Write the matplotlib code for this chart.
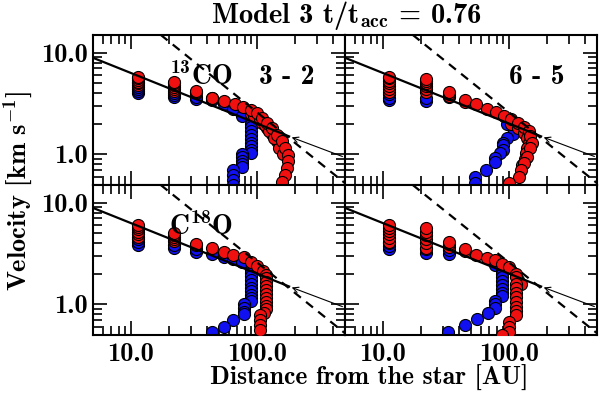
import numpy as np
import matplotlib.pyplot as plt
from matplotlib.ticker import FixedLocator, FixedFormatter, LogLocator, NullFormatter

plt.rcParams['font.family'] = 'cmb10'
plt.rcParams['mathtext.fontset'] = 'custom'
plt.rcParams['mathtext.rm'] = 'cmb10'
plt.rcParams['mathtext.it'] = 'cmb10'
plt.rcParams['mathtext.bf'] = 'cmb10'
plt.rcParams['axes.unicode_minus'] = False

# reference lines
kep_r = [5, 180, 500]
kep_v = [8.9, 1.5, 0.93]
dash_r = [17.2, 500]
dash_v = [15, 0.52]

# top-left: 13CO 3-2
tl_blue_r = [11.3, 11.3, 11.3, 11.3, 22, 22, 22, 33, 33, 44, 55, 65, 76,
             89, 89, 89, 89, 89, 89, 89, 89, 89, 89, 76, 76, 76, 76, 76, 65, 65, 65, 65]
tl_blue_v = [4.0, 4.2, 4.4, 4.6, 3.65, 3.8, 4.0, 3.5, 3.7, 3.4, 3.1, 2.8, 2.4,
             2.15, 2.0, 1.85, 1.7, 1.55, 1.42, 1.3, 1.2, 1.1, 1.02, 1.0, 0.93, 0.86, 0.8, 0.75, 0.7, 0.62, 0.56, 0.5]
tl_red_r = [11.3, 11.3, 11.3, 11.3, 11.3, 11.3, 22, 22, 22, 22, 22, 22, 33, 33, 33, 44, 44,
            89, 100, 110, 120, 131, 143, 150, 160, 95, 105, 115, 125, 137,
            55, 67, 78, 89, 100, 110, 120, 131, 143, 157, 168, 178, 178, 172, 167, 157]
tl_red_v = [4.8, 5.0, 5.2, 5.4, 5.6, 5.8, 4.2, 4.4, 4.6, 4.8, 5.0, 5.2, 4.0, 4.1, 4.2, 3.55, 3.6,
            2.5, 2.3, 2.05, 1.8, 1.58, 1.35, 1.15, 1.0, 2.4, 2.2, 1.95, 1.7, 1.45,
            3.35, 3.15, 2.95, 2.75, 2.55, 2.3, 2.05, 1.82, 1.56, 1.34, 1.16, 0.99, 0.85, 0.74, 0.63, 0.53]

# top-right: 13CO 6-5
tr_blue_r = [11.2, 11.2, 11.2, 22, 22, 33.4, 96.6, 107, 97, 89, 89, 89, 85, 78, 78, 65.5, 54, 54]
tr_blue_v = [3.4, 3.6, 3.9, 3.35, 3.6, 3.7, 2.0, 1.6, 1.43, 1.3, 1.22, 1.1, 1.02, 0.92, 0.84, 0.7, 0.6, 0.52]
tr_red_r = [11.2, 11.2, 11.2, 11.2, 11.2, 11.2, 11.2, 22, 22, 22, 22, 22, 22, 33.4, 33.4, 33.4, 44.8, 44.8,
            103, 117, 132, 140, 144, 140, 137, 135, 128,
            55, 66.6, 78.5, 91.5, 103, 117, 132, 144, 148, 152, 146, 140, 132, 125, 121, 100]
tr_red_v = [4.1, 4.4, 4.7, 5.0, 5.3, 5.6, 5.8, 4.1, 4.4, 4.7, 5.0, 5.3, 5.5, 3.75, 3.9, 4.1, 3.3, 3.4,
            2.0, 1.8, 1.62, 1.45, 1.3, 1.15, 1.02, 0.9, 0.78,
            3.1, 2.8, 2.6, 2.4, 2.22, 2.03, 1.85, 1.7, 1.5, 1.3, 1.15, 0.95, 0.82, 0.7, 0.6, 0.52]

# bottom-left: C18O 3-2
bl_blue_r = [11.3, 11.3, 11.3, 22, 22, 33, 33, 44, 55, 65, 76,
             89, 89, 89, 89, 89, 89, 89, 89, 89, 89, 79, 79, 79, 79, 65, 55, 44]
bl_blue_v = [3.8, 4.1, 4.4, 3.56, 3.8, 3.3, 3.5, 3.1, 2.95, 2.8, 2.6,
             2.2, 2.05, 1.9, 1.75, 1.6, 1.45, 1.35, 1.25, 1.15, 1.08, 1.0, 0.92, 0.85, 0.8, 0.7, 0.6, 0.53]
bl_red_r = [11.3, 11.3, 11.3, 11.3, 11.3, 11.3, 22, 22, 22, 22, 22, 33, 33, 44, 55, 65, 79, 89, 100, 111,
            118, 118, 118, 118, 118, 118, 118, 118, 118, 118, 113, 105, 105, 105, 105]
bl_red_v = [4.6, 4.9, 5.2, 5.5, 5.8, 6.1, 4.2, 4.4, 4.6, 4.8, 5.0, 3.8, 3.96, 3.56, 3.25, 3.07, 2.9, 2.6, 2.4, 2.15,
            1.95, 1.8, 1.65, 1.5, 1.38, 1.26, 1.15, 1.05, 0.97, 0.9, 0.83, 0.78, 0.7, 0.63, 0.56]

# bottom-right: C18O 6-5
br_blue_r = [11.2, 11.2, 11.2, 22, 22, 33.4, 33.4, 77.5,
             88.5, 88.5, 88.5, 88.5, 88.5, 88.5, 88.5, 88.5, 78, 78, 78, 67.6, 56, 45, 33]
br_blue_v = [3.48, 3.75, 4.0, 3.23, 3.5, 3.11, 3.4, 2.45,
             2.15, 2.0, 1.85, 1.7, 1.55, 1.42, 1.3, 1.22, 1.09, 1.0, 0.93, 0.83, 0.72, 0.62, 0.53]
br_red_r = [11.2, 11.2, 11.2, 11.2, 11.2, 11.2, 22, 22, 22, 22, 22, 22, 33.4, 33.4, 33.4, 44.8, 44.8,
            55, 66.6, 77.5, 88.5, 100, 113, 118, 124,
            113, 113, 113, 113, 113, 113, 113, 113, 113, 100, 100, 100, 88]
br_red_v = [4.1, 4.5, 4.9, 5.3, 5.7, 6.1, 3.6, 4.0, 4.4, 4.8, 5.2, 5.6, 3.7, 3.9, 4.15, 3.35, 3.48,
            3.07, 2.89, 2.72, 2.52, 2.31, 1.98, 1.75, 1.58,
            1.84, 1.6, 1.45, 1.3, 1.18, 1.05, 0.95, 0.86, 0.78, 0.67, 0.6, 0.53, 0.5]

panels = [
    (tl_red_r, tl_red_v, tl_blue_r, tl_blue_v),
    (tr_red_r, tr_red_v, tr_blue_r, tr_blue_v),
    (bl_red_r, bl_red_v, bl_blue_r, bl_blue_v),
    (br_red_r, br_red_v, br_blue_r, br_blue_v),
]

fig = plt.figure(figsize=(6, 3.95), dpi=100)
W, H = 0.42, 0.38
boxes = [[0.155, 0.532, W, H], [0.575, 0.532, W, H],
         [0.155, 0.152, W, H], [0.575, 0.152, W, H]]

axes = []
for i, (box, (rr, rv, br, bv)) in enumerate(zip(boxes, panels)):
    ax = fig.add_axes(box)
    ax.set_xscale('log')
    ax.set_yscale('log')
    ax.set_xlim(5, 500)
    ax.set_ylim(0.5, 15)

    ax.scatter(br, bv, s=75, c='#1010f0', edgecolors='black', linewidths=0.8, zorder=2)
    ax.scatter(rr, rv, s=75, c='#f01010', edgecolors='black', linewidths=0.8, zorder=3)

    ax.plot(kep_r[:2], kep_v[:2], color='black', lw=1.6, zorder=4)
    ax.annotate('', xy=(kep_r[1], kep_v[1]), xytext=(kep_r[2], kep_v[2]),
                arrowprops=dict(arrowstyle='->', color='black', lw=0.8), zorder=4)
    ax.plot(dash_r, dash_v, color='black', lw=1.6, ls=(0, (4, 3)), zorder=4)

    ax.xaxis.set_major_locator(FixedLocator([10, 100]))
    ax.xaxis.set_minor_locator(LogLocator(subs=np.arange(2, 10)))
    ax.xaxis.set_minor_formatter(NullFormatter())
    ax.yaxis.set_major_locator(FixedLocator([1, 10]))
    ax.yaxis.set_minor_locator(LogLocator(subs=np.arange(2, 10)))
    ax.yaxis.set_minor_formatter(NullFormatter())

    if i >= 2:
        ax.xaxis.set_major_formatter(FixedFormatter(['10.0', '100.0']))
    else:
        ax.xaxis.set_major_formatter(NullFormatter())
    if i % 2 == 0:
        ax.yaxis.set_major_formatter(FixedFormatter(['1.0', '10.0']))
    else:
        ax.yaxis.set_major_formatter(NullFormatter())

    ax.tick_params(which='both', direction='in', top=True, right=True, width=1.2, labelsize=19)
    ax.tick_params(which='major', length=10)
    ax.tick_params(which='minor', length=6.5)
    ax.tick_params(axis='x', pad=6)
    ax.tick_params(axis='y', pad=4)
    for sp in ax.spines.values():
        sp.set_linewidth(1.5)
    axes.append(ax)

axes[0].text(0.43, 0.72, r'$^{13}$CO', transform=axes[0].transAxes, fontsize=20, ha='center', va='center', zorder=5)
axes[0].text(0.77, 0.72, '3 - 2', transform=axes[0].transAxes, fontsize=20, ha='center', va='center', zorder=5)
axes[1].text(0.76, 0.72, '6 - 5', transform=axes[1].transAxes, fontsize=20, ha='center', va='center', zorder=5)
axes[2].text(0.43, 0.72, r'C$^{18}$O', transform=axes[2].transAxes, fontsize=20, ha='center', va='center', zorder=5)

fig.text(0.577, 0.962, r'Model 3 t/t$_{\rm acc}$ = 0.76', ha='center', va='center', fontsize=20.5)
fig.text(0.615, 0.042, 'Distance from the star [AU]', ha='center', va='center', fontsize=18.5)
fig.text(0.03, 0.516, r'Velocity [km s$^{-1}$]', ha='center', va='center', rotation=90, fontsize=19)

fig.savefig('out.png', dpi=100)
